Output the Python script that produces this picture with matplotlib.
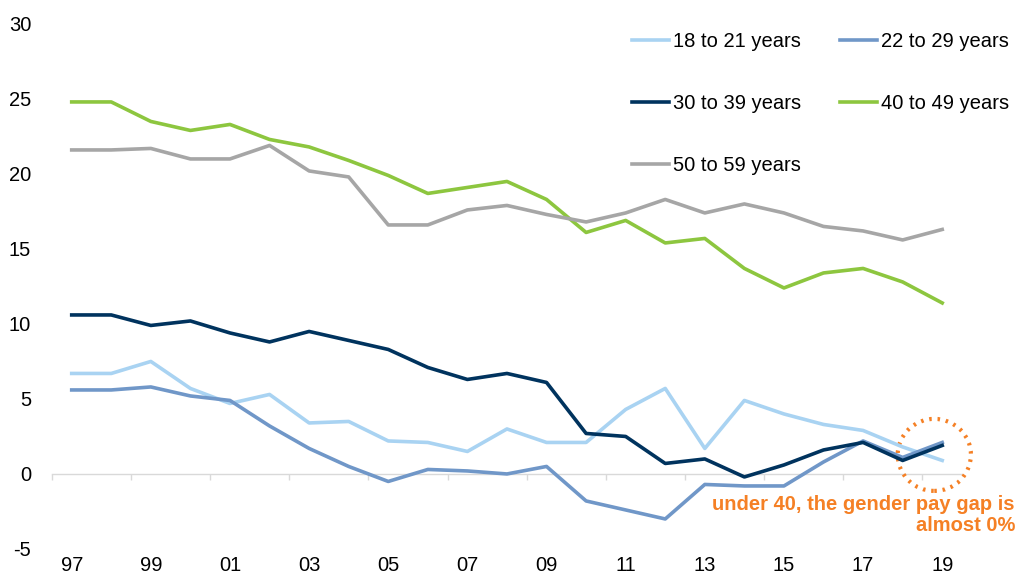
import matplotlib.pyplot as plt
from matplotlib.patches import Ellipse

plt.rcParams['font.family'] = ['Liberation Sans', 'DejaVu Sans']
plt.rcParams['axes.unicode_minus'] = False

years = ['97', '98', '99', '00', '01', '02', '03', '04', '05', '06', '07', '08',
         '09', '10', '11', '12', '13', '14', '15', '16', '17', '18', '19']

age_18_21 = [6.7, 6.7, 7.5, 5.7, 4.7, 5.3, 3.4, 3.5, 2.2, 2.1, 1.5, 3.0,
             2.1, 2.1, 4.3, 5.7, 1.7, 4.9, 4.0, 3.3, 2.9, 1.8, 0.9]
age_22_29 = [5.6, 5.6, 5.8, 5.2, 4.9, 3.2, 1.7, 0.5, -0.5, 0.3, 0.2, 0.0,
             0.5, -1.8, -2.4, -3.0, -0.7, -0.8, -0.8, 0.8, 2.2, 1.1, 2.1]
age_30_39 = [10.6, 10.6, 9.9, 10.2, 9.4, 8.8, 9.5, 8.9, 8.3, 7.1, 6.3, 6.7,
             6.1, 2.7, 2.5, 0.7, 1.0, -0.2, 0.6, 1.6, 2.1, 0.9, 1.9]
age_40_49 = [24.8, 24.8, 23.5, 22.9, 23.3, 22.3, 21.8, 20.9, 19.9, 18.7, 19.1, 19.5,
             18.3, 16.1, 16.9, 15.4, 15.7, 13.7, 12.4, 13.4, 13.7, 12.8, 11.4]
age_50_59 = [21.6, 21.6, 21.7, 21.0, 21.0, 21.9, 20.2, 19.8, 16.6, 16.6, 17.6, 17.9,
             17.3, 16.8, 17.4, 18.3, 17.4, 18.0, 17.4, 16.5, 16.2, 15.6, 16.3]

labels = ['18 to 21 years', '22 to 29 years', '30 to 39 years', '40 to 49 years', '50 to 59 years']
series = [age_18_21, age_22_29, age_30_39, age_40_49, age_50_59]
colors = ['#A9D3F2', '#7097C8', '#00335E', '#8DC63F', '#A6A6A6']
orange = '#F58025'
fs = 14.5

fig = plt.figure(figsize=(10.18, 5.84), dpi=100)
ax = fig.add_axes([0.051, 0.060, 0.894, 0.899])

x = list(range(len(years)))
lines = []
for lab, vals, c in zip(labels, series, colors):
    ln, = ax.plot(x, vals, color=c, lw=2.6, label=lab)
    lines.append(ln)

ax.set_xlim(-0.5, 22.5)
ax.set_ylim(-5, 30)
ax.set_yticks(range(-5, 31, 5))
ax.tick_params(axis='y', length=0, pad=15, labelsize=fs)
ax.set_xticks(x[::2])
ax.set_xticklabels(years[::2])
ax.tick_params(axis='x', length=0, pad=5, labelsize=fs)
for s in ax.spines.values():
    s.set_visible(False)

# zero line with category boundary ticks
sec = ax.secondary_xaxis(0, transform=ax.transData)
sec.set_xticks([i - 0.5 for i in range(0, 23, 2)])
sec.set_xticklabels([])
sec.tick_params(axis='x', length=4.5, width=1, color='#D9D9D9')
sec.spines['bottom'].set_color('#D9D9D9')
sec.spines['bottom'].set_linewidth(1)

# legend in rows: 18-21, 22-29 / 30-39, 40-49 / 50-59
order = [0, 2, 4, 1, 3]
leg = fig.legend([lines[i] for i in order], [labels[i] for i in order],
                 ncol=2, loc='upper right', bbox_to_anchor=(1.009, 0.976),
                 frameon=False, fontsize=fs, handlelength=1.85, handletextpad=0.2,
                 columnspacing=1.9, labelspacing=2.13)

# annotation
circ = Ellipse((21.8, 1.27), width=1.85, height=4.8, fill=False,
               edgecolor=orange, lw=3, linestyle=(0, (0.6, 1.4)), clip_on=False)
ax.add_patch(circ)
fig.text(0.997, 0.118, 'under 40, the gender pay gap is\nalmost 0%', color=orange,
         fontsize=fs, fontweight='bold', ha='right', va='center', multialignment='right',
         linespacing=1.15)

fig.savefig('out.png', dpi=100)
